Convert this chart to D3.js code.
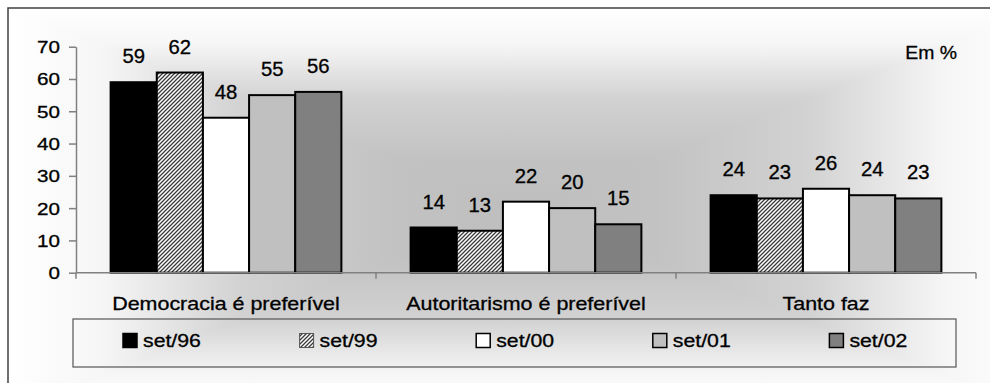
<!DOCTYPE html>
<html>
<head>
<meta charset="utf-8">
<script src="https://cdn.jsdelivr.net/npm/d3@7"></script>
<style>
  body { margin: 0; background: #fff; }
  svg { display: block; font-family: "Liberation Sans", Arial, sans-serif; }
  svg text { stroke: #000; stroke-width: 0.3px; }
</style>
</head>
<body>
<svg width="990" height="383"></svg>
<script>
const categories = ['Democracia é preferível', 'Autoritarismo é preferível', 'Tanto faz'];
const seriesNames = ['set/96', 'set/99', 'set/00', 'set/01', 'set/02'];
const set96 = [59, 14, 24];
const set99 = [62, 13, 23];
const set00 = [48, 22, 26];
const set01 = [55, 20, 24];
const set02 = [56, 15, 23];
const yTicks = [0, 10, 20, 30, 40, 50, 60, 70];

const series = [set96, set99, set00, set01, set02];
const fills = ['#000000', 'url(#hatch)', '#ffffff', '#c0c0c0', '#808080'];

const svg = d3.select('svg');
const defs = svg.append('defs');

// hatch for set/99
const pat = defs.append('pattern').attr('id', 'hatch')
  .attr('patternUnits', 'userSpaceOnUse').attr('width', 4).attr('height', 4);
pat.append('rect').attr('width', 4).attr('height', 4).attr('fill', '#fff');
pat.append('path').attr('d', 'M-1,1 l2,-2 M0,4 l4,-4 M3,5 l2,-2')
  .attr('stroke', '#3a3a3a').attr('stroke-width', 1.3);

// rectangular "from center" gradient background
const gx0 = 8, gy0 = 8, gx1 = 1040, gy1 = 410;
const cx = (gx0 + gx1) / 2, cy = (gy0 + gy1) / 2;
const stops = [[0, '#ffffff'], [0.18, '#f6f6f6'], [0.45, '#d2d2d2'], [0.75, '#c2c2c2'], [1, '#bebebe']];
const tris = [
  { id: 'gT', pts: [[gx0, gy0], [gx1, gy0], [cx, cy]], from: [cx, gy0] },
  { id: 'gB', pts: [[gx0, gy1], [gx1, gy1], [cx, cy]], from: [cx, gy1] },
  { id: 'gL', pts: [[gx0, gy0], [gx0, gy1], [cx, cy]], from: [gx0, cy] },
  { id: 'gR', pts: [[gx1, gy0], [gx1, gy1], [cx, cy]], from: [gx1, cy] }
];
tris.forEach(t => {
  const lg = defs.append('linearGradient').attr('id', t.id)
    .attr('gradientUnits', 'userSpaceOnUse')
    .attr('x1', t.from[0]).attr('y1', t.from[1]).attr('x2', cx).attr('y2', cy);
  stops.forEach(s => lg.append('stop').attr('offset', s[0]).attr('stop-color', s[1]));
  svg.append('polygon')
    .attr('points', t.pts.map(p => p.join(',')).join(' '))
    .attr('fill', `url(#${t.id})`)
    .attr('stroke', `url(#${t.id})`).attr('stroke-width', 1);
});

// outer frame (cropped at right / bottom)
svg.append('path').attr('d', 'M8,383 V8 H990')
  .attr('fill', 'none').attr('stroke', '#404040').attr('stroke-width', 1.5);

const scX = d3.scaleBand().domain(categories).range([76, 976]).padding(0);
const scS = d3.scaleBand().domain(seriesNames).range([0, scX.bandwidth()])
  .paddingInner(0).paddingOuter(0.75);
const scY = d3.scaleLinear().domain([0, 70]).range([272.7, 46.7]);

// stretched text helper (the source is wider than Arial)
const place = (sel, x, y, k) => sel.attr('transform', `translate(${x},${y}) scale(${k},1)`);

// y axis
const yAx = svg.append('g').attr('transform', 'translate(76,0)')
  .call(d3.axisLeft(scY).tickValues(yTicks).tickSize(7).tickSizeOuter(0));
yAx.select('.domain').attr('stroke', '#808080').attr('stroke-width', 1.5);
yAx.selectAll('.tick line').attr('stroke', '#808080').attr('stroke-width', 1.5);
yAx.selectAll('.tick text')
  .attr('font-size', 16.5).attr('fill', '#000').attr('font-family', null)
  .attr('x', -16 / 1.25).attr('dy', '0.36em')
  .attr('transform', 'scale(1.25,1)');

// bars
categories.forEach((c, ci) => {
  const g = svg.append('g').attr('transform', `translate(${scX(c)},0)`);
  seriesNames.forEach((s, si) => {
    const v = series[si][ci];
    g.append('rect')
      .attr('x', scS(s)).attr('width', scS.bandwidth())
      .attr('y', scY(v)).attr('height', scY(0) - scY(v))
      .attr('fill', fills[si])
      .attr('stroke', '#000').attr('stroke-width', 2);
    place(g.append('text'), scS(s) + scS.bandwidth() / 2, scY(v) - 19, 1.04)
      .attr('text-anchor', 'middle').attr('font-size', 19.5).text(v);
  });
});

// x axis
const xAx = svg.append('g').attr('transform', `translate(0,${scY(0)})`);
xAx.append('line').attr('x1', 76).attr('x2', 976)
  .attr('stroke', '#808080').attr('stroke-width', 1.5);
const edges = categories.map(c => scX(c)).concat([scX.range()[1]]);
xAx.selectAll('.tk').data(edges).enter().append('line')
  .attr('x1', d => d).attr('x2', d => d).attr('y1', 0).attr('y2', 6)
  .attr('stroke', '#808080').attr('stroke-width', 1.5);
categories.forEach(c => {
  place(svg.append('text'), scX(c) + scX.bandwidth() / 2, 309.5, 1.16)
    .attr('text-anchor', 'middle').attr('font-size', 18.5).text(c);
});

// unit note
place(svg.append('text'), 957, 59, 1.05)
  .attr('text-anchor', 'end').attr('font-size', 18.5).text('Em %');

// legend
const lgX = d3.scaleBand().domain(seriesNames).range([73, 956]);
svg.append('rect').attr('x', 73).attr('y', 319).attr('width', 883).attr('height', 48)
  .attr('fill', 'none').attr('stroke', '#555').attr('stroke-width', 1.2);
seriesNames.forEach((s, si) => {
  const x = lgX(s) + 50;
  svg.append('rect').attr('x', x).attr('y', 333.5).attr('width', 14).attr('height', 14)
    .attr('fill', fills[si])
    .attr('stroke', si === 1 ? '#555' : '#000').attr('stroke-width', si === 1 ? 1 : 1.5);
  place(svg.append('text'), x + 20, 346.5, 1.15)
    .attr('font-size', 18.5).text(s);
});
</script>
</body>
</html>
